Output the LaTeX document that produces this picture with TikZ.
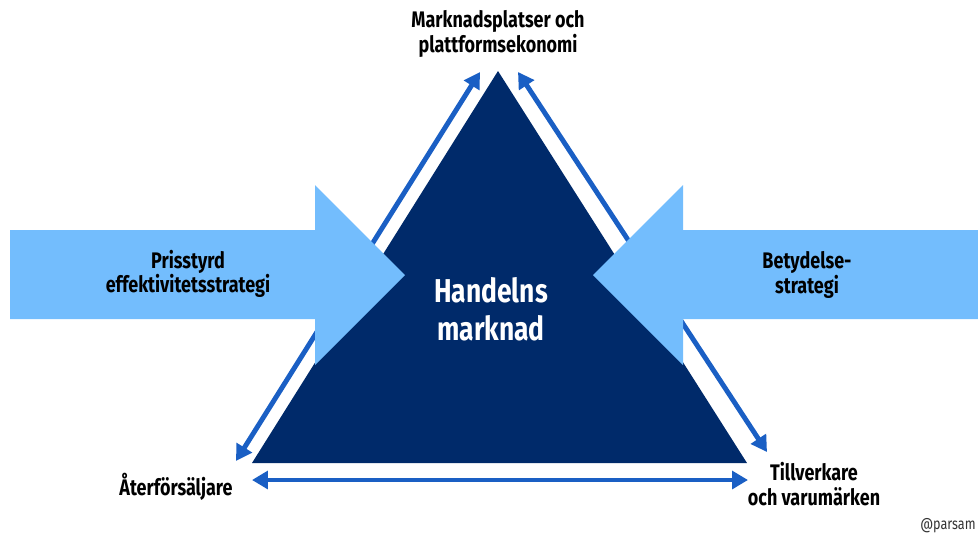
\documentclass[tikz,border=0pt]{standalone}
\usepackage{fontspec}
\setmainfont{Fira Sans}
\newfontfamily\condfont[FakeStretch=0.80]{Fira Sans}
\usepackage{xcolor}
\usetikzlibrary{arrows.meta,positioning}

\definecolor{navy}{HTML}{002A6A}
\definecolor{linkblue}{HTML}{1A5FC4}
\definecolor{strat}{HTML}{73BDFD}

\begin{document}
\begin{tikzpicture}[
  x=0.02cm, y=-0.02cm,
  lbl/.style={align=center, font=\condfont\bfseries\fontsize{12.8}{13.8}\selectfont, inner sep=0pt},
  link/.style={{Triangle[length=9pt,width=10pt]}-{Triangle[length=9pt,width=10pt]}, line width=2.8pt, linkblue},
  pusher/.style={fill=strat}
]
  \useasboundingbox (0,0) rectangle (978,535);
  \clip (0,0) rectangle (978,535);

  % market triangle
  \coordinate (top)   at (498,71);
  \coordinate (left)  at (252,463);
  \coordinate (right) at (747,463);
  \fill[navy] (top) -- (left) -- (right) -- cycle;

  % links between the corners
  \coordinate (l1) at (236,461);
  \coordinate (l2) at (480,72);
  \coordinate (r1) at (518,72);
  \coordinate (r2) at (767,452);
  \coordinate (b1) at (252,480);
  \coordinate (b2) at (748,480);
  \draw[link] (l1) -- (l2);
  \draw[link] (r1) -- (r2);
  \draw[link] (b1) -- (b2);

  % strategy arrows
  \fill[pusher] (10,230) -- (315,230) -- (315,185) -- (405,275)
    -- (315,365) -- (315,319) -- (10,319) -- cycle;
  \fill[pusher] (978,230) -- (683,230) -- (683,185) -- (593,275)
    -- (683,365) -- (683,319) -- (978,319) -- cycle;

  \node[lbl] (price)   at (188,274) {Prisstyrd\\effektivitetsstrategi};
  \node[lbl] (meaning) at (807,275) {Betydelse-\\strategi};

  % corners
  \node[lbl] (platform) at (498,34)  {Marknadsplatser och\\plattformsekonomi};
  \node[lbl] (reseller) at (176,487) {Återförsäljare};
  \node[lbl] (maker)    at (814,484) {Tillverkare\\och varumärken};

  \node[align=center, white, inner sep=0pt,
        font=\condfont\bfseries\fontsize{18.8}{21.5}\selectfont] (market) at (491,309)
    {Handelns\\marknad};

  \node[anchor=east, inner sep=0pt, black!80,
        font=\condfont\fontsize{9}{10}\selectfont] (credit) at (976,526) {@parsam};
\end{tikzpicture}
\end{document}
